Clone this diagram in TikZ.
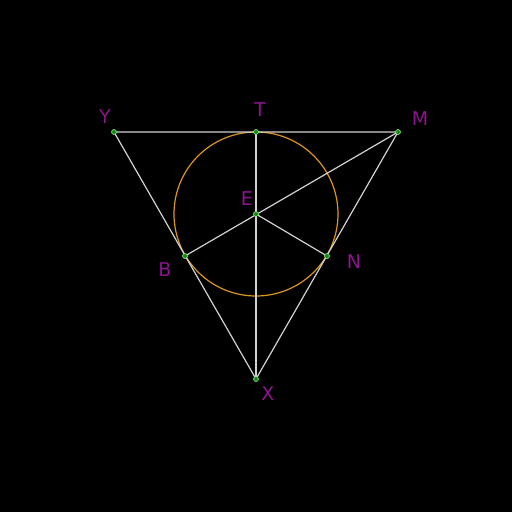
\documentclass[tikz,border=0pt]{standalone}
\usepackage{fontspec}
\setmainfont{DejaVu Sans}
\begin{document}
\begin{tikzpicture}[x=1pt,y=-1pt,
  seg/.style={draw={rgb,255:red,210;green,210;blue,210},line width=1.2pt},
  circ/.style={draw={rgb,255:red,220;green,150;blue,30},line width=1.2pt},
  pt/.style={circle,fill={rgb,255:red,20;green,140;blue,20},draw={rgb,255:red,140;green,230;blue,140},line width=0.6pt,inner sep=0pt,minimum size=5pt},
  lab/.style={text={rgb,255:red,140;green,20;blue,140},font=\fontsize{19}{22}\selectfont,inner sep=0pt}]
\fill[black] (0,0) rectangle (512,512);
\useasboundingbox (0,0) rectangle (512,512);
\coordinate (Y) at (114,132);
\coordinate (M) at (398,132);
\coordinate (X) at (256,379);
\coordinate (T) at (256,132);
\coordinate (E) at (256,214);
\coordinate (B) at (185,256);
\coordinate (N) at (327,256);
\draw[circ] (E) circle (82);
\draw[seg] (Y) -- (M) -- (X) -- cycle;
\draw[seg] (T) -- (X);
\draw[seg] (M) -- (B);
\draw[seg] (E) -- (N);
\foreach \p in {Y,M,X,T,E,B,N} \node[pt] (d\p) at (\p) {};
\node[lab] (lY) at (105,117) {Y};
\node[lab] (lT) at (260,110) {T};
\node[lab] (lM) at (420,119) {M};
\node[lab] (lE) at (247,199) {E};
\node[lab] (lB) at (165,270) {B};
\node[lab] (lN) at (354,262) {N};
\node[lab] (lX) at (268,394) {X};
\end{tikzpicture}
\end{document}
